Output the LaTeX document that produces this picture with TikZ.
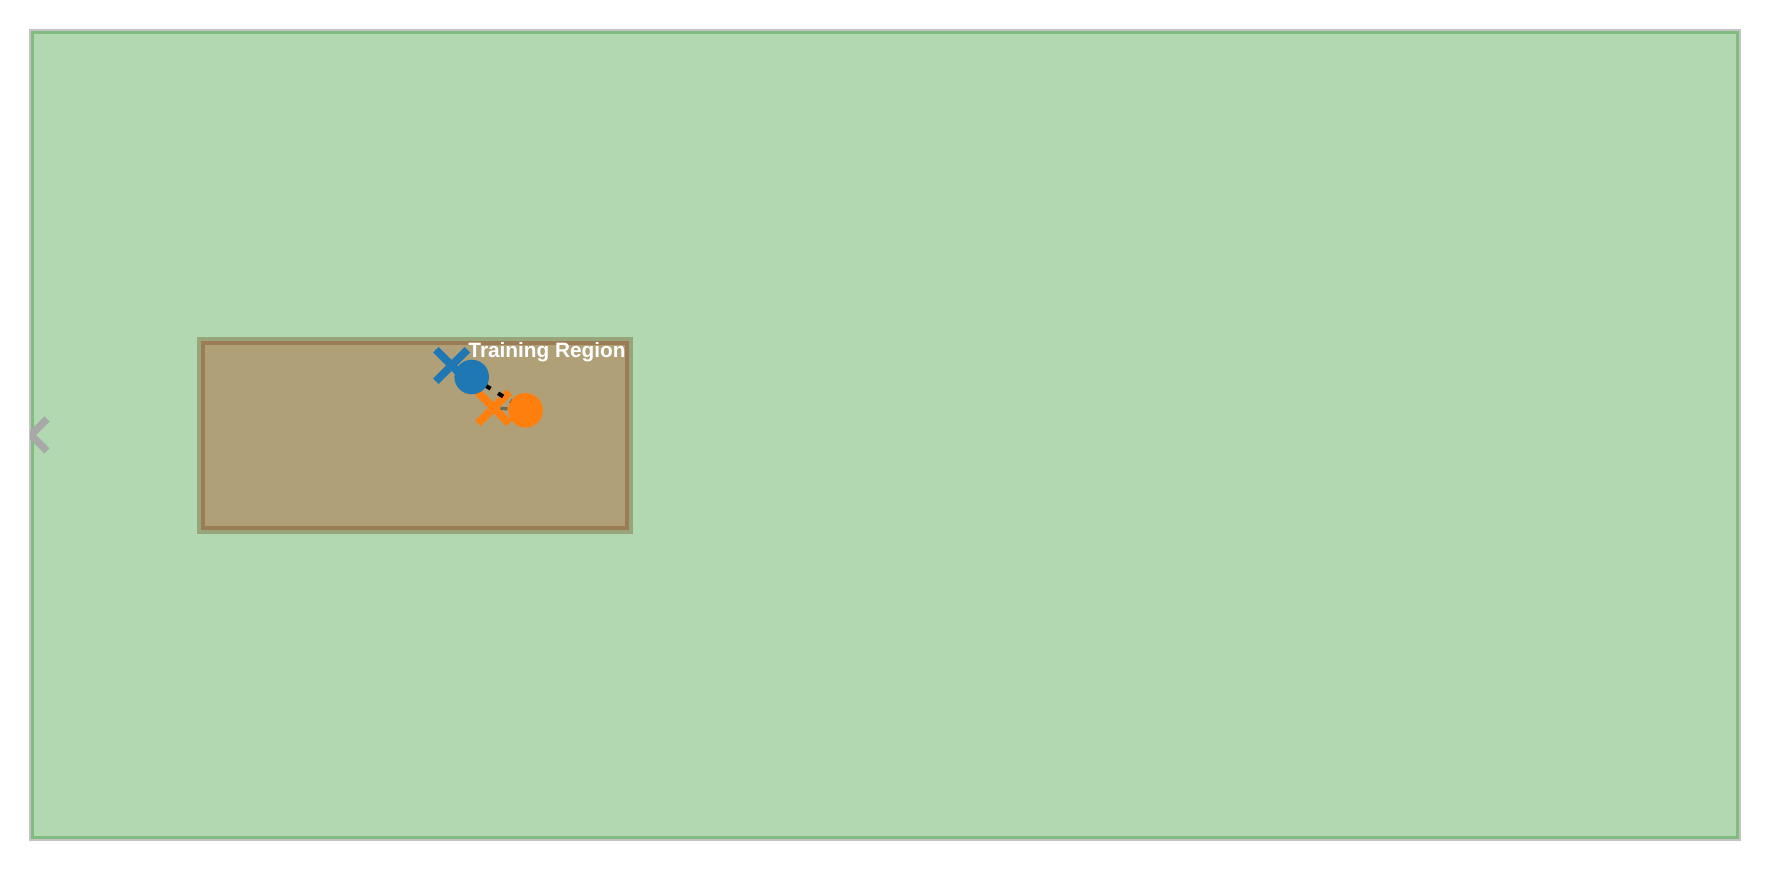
\documentclass[tikz,border=0pt]{standalone}
\usepackage{fontspec}
\setmainfont{Liberation Sans}
\definecolor{greenfill}{RGB}{178,216,178}
\definecolor{greenedge}{RGB}{128,188,128}
\definecolor{grayedge}{RGB}{196,196,196}
\definecolor{regionfill}{RGB}{176,160,120}
\definecolor{regiondark}{RGB}{155,124,85}
\definecolor{regionlight}{RGB}{152,164,122}
\definecolor{chevgray}{RGB}{168,168,168}
\definecolor{tabblue}{RGB}{31,119,180}
\definecolor{taborange}{RGB}{255,127,14}
\begin{document}
\begin{tikzpicture}[x=0.5pt,y=-0.5pt,
  xm/.style={draw=#1, line width=3.9pt, line cap=butt},
  dot/.style={circle, fill=#1, draw=none, minimum size=17.3pt, inner sep=0pt},
  link/.style={draw=black, line width=2pt, dash pattern=on 3pt off 4.4pt, dash phase=6.7pt},
  faintlink/.style={draw=black, opacity=0.35, line width=1.6pt, dash pattern=on 3.5pt off 4pt, dash phase=4pt},
  chev/.style={draw=chevgray, line width=3.6pt, miter limit=10, line join=miter}]
\useasboundingbox (0,0) rectangle (1770,870);
% outer field
\fill[greenfill] (30,30) rectangle (1740,840);
\draw[grayedge, line width=1pt] (30,30) rectangle (1740,840);
\draw[greenedge, line width=1.5pt] (32.5,32.5) rectangle (1737.5,837.5);
% left chevron
\begin{scope}
  \clip (30,30) rectangle (1740,840);
  \draw[chev] (47,419) -- (31,435) -- (47,451);
\end{scope}
% training region
\draw[regionlight, line width=2.15pt] (199,339) rectangle (631,532);
\draw[regiondark, fill=regionfill, line width=2pt] (203,343) rectangle (627,528);
% markers
\coordinate (bx) at (451.6,365.5);
\coordinate (ox) at (493.5,407.8);
\draw[xm=tabblue] (bx) ++(-15.7,-15.7) -- ++(31.4,31.4) (bx) ++(-15.7,15.7) -- ++(31.4,-31.4);
\draw[xm=taborange] (ox) ++(-15.7,-15.7) -- ++(31.4,31.4) (ox) ++(-15.7,15.7) -- ++(31.4,-31.4);
\path (471.7,377) coordinate (bcp) (525.5,410.3) coordinate (ocp);
\draw[link] (bcp) -- (ocp);
\draw[faintlink] (ox) -- (ocp);
\node[dot=tabblue] (bc) at (bcp) {};
\node[dot=taborange] (oc) at (ocp) {};
% label
\node[anchor=base east, text=white, font=\bfseries\fontsize{10.4}{12}\selectfont, inner sep=0pt] (lbl) at (626,357.5) {Training Region};
\end{tikzpicture}
\end{document}
